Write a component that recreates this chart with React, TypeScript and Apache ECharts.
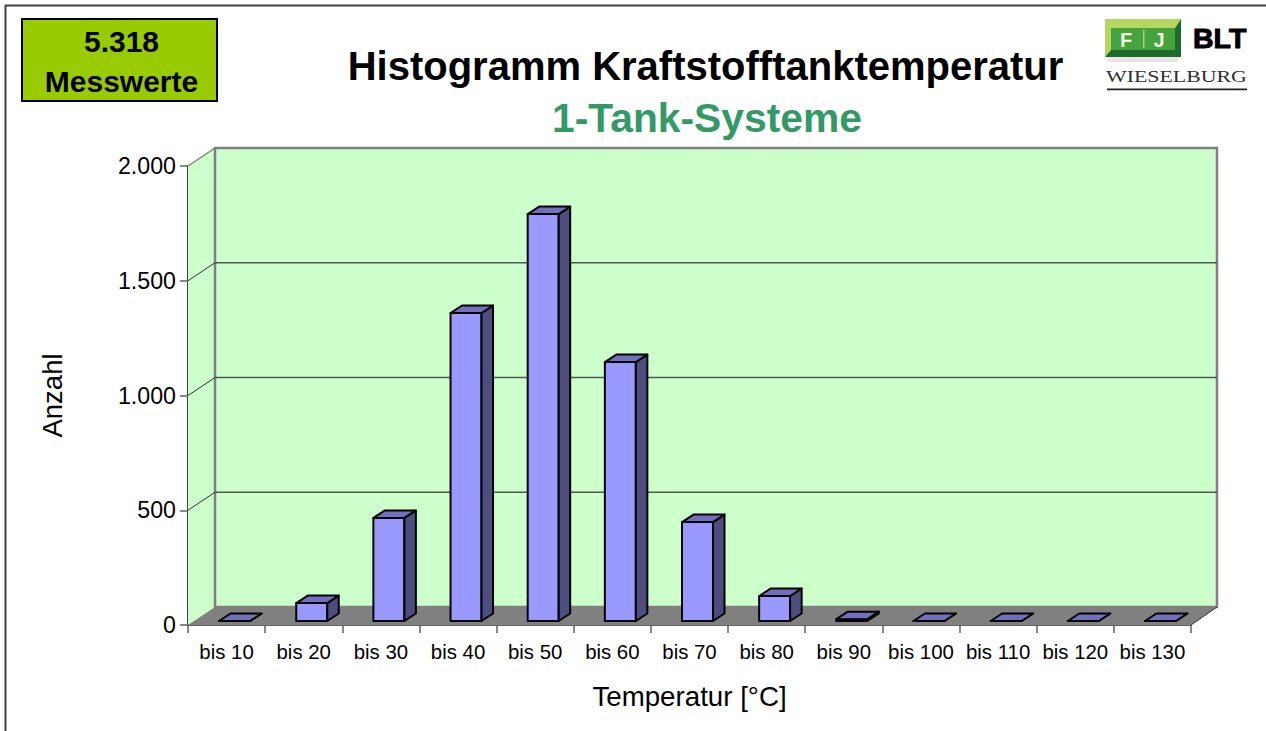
import React, { useEffect, useRef } from "react";
import * as echarts from "echarts";

const categories = ["bis 10", "bis 20", "bis 30", "bis 40", "bis 50", "bis 60", "bis 70", "bis 80", "bis 90", "bis 100", "bis 110", "bis 120", "bis 130"];
const counts = [0, 78, 449, 1342, 1773, 1128, 431, 109, 8, 0, 0, 0, 0];
const yTicks = [0, 500, 1000, 1500, 2000];
const chartTitle = "Histogramm Kraftstofftanktemperatur";
const chartSubtitle = "1-Tank-Systeme";
const badgeLines = ["5.318", "Messwerte"];
const xName = "Temperatur [°C]";
const yName = "Anzahl";

const FONT = '"Liberation Sans", Arial, sans-serif';
const WALL_DX = 27;
const WALL_DY = 18;
const BAR_OFF_X = 8;
const BAR_OFF_Y = 4;
const BAR_W = 31;
const BAR_DX = 11.5;
const BAR_DY = 7.5;

const renderWalls = (params: any, api: any) => {
  const cs = params.coordSys;
  const L = cs.x, R = cs.x + cs.width;
  const y0 = api.coord([0, 0])[1];
  const yMax = api.coord([0, yTicks[yTicks.length - 1]])[1];
  const children: any[] = [
    { type: "polygon", shape: { points: [[L, y0], [L, yMax], [L + WALL_DX, yMax - WALL_DY], [L + WALL_DX, y0 - WALL_DY]] }, style: { fill: "#CCFFCC" } },
    { type: "rect", shape: { x: L + WALL_DX, y: yMax - WALL_DY, width: cs.width - 1, height: y0 - yMax }, style: { fill: "#CCFFCC", stroke: "#808080", lineWidth: 2.5 } },
    { type: "polygon", shape: { points: [[L, y0], [R, y0], [R + WALL_DX - 1, y0 - WALL_DY], [L + WALL_DX, y0 - WALL_DY]] }, style: { fill: "#808080" } },
    { type: "line", shape: { x1: L, y1: yMax, x2: L + WALL_DX, y2: yMax - WALL_DY }, style: { stroke: "#808080", lineWidth: 1.5 } },
    { type: "line", shape: { x1: R, y1: y0, x2: R + WALL_DX - 1, y2: y0 - WALL_DY }, style: { stroke: "#303030", lineWidth: 1 } },
  ];
  yTicks.slice(1, -1).forEach((t) => {
    const y = api.coord([0, t])[1];
    children.push({ type: "line", shape: { x1: L, y1: y, x2: L + WALL_DX, y2: y - WALL_DY }, style: { stroke: "#303030", lineWidth: 1 } });
    children.push({ type: "line", shape: { x1: L + WALL_DX, y1: y - WALL_DY, x2: R + WALL_DX - 1, y2: y - WALL_DY }, style: { stroke: "#505A50", lineWidth: 1.5 } });
  });
  return { type: "group", children };
};

const renderBar = (_params: any, api: any) => {
  const i = api.value(0);
  const top = api.coord([i, api.value(1)]);
  const base = api.coord([i, 0]);
  const x0 = top[0] + BAR_OFF_X - BAR_W / 2;
  const x1 = x0 + BAR_W;
  const yb = base[1] - BAR_OFF_Y;
  const yt = top[1] - BAR_OFF_Y;
  const stroke = { stroke: "#000", lineWidth: 2, lineJoin: "round" };
  return {
    type: "group",
    children: [
      { type: "polygon", shape: { points: [[x0, yt], [x1, yt], [x1, yb], [x0, yb]] }, style: { fill: "#9999FF", ...stroke } },
      { type: "polygon", shape: { points: [[x1, yt], [x1 + BAR_DX, yt - BAR_DY], [x1 + BAR_DX, yb - BAR_DY], [x1, yb]] }, style: { fill: "#4D4D80", ...stroke } },
      { type: "polygon", shape: { points: [[x0, yt], [x0 + BAR_DX, yt - BAR_DY], [x1 + BAR_DX, yt - BAR_DY], [x1, yt]] }, style: { fill: "#7070BF", ...stroke } },
    ],
  };
};

const logo = {
  type: "group",
  silent: true,
  children: [
    { type: "rect", shape: { x: 1108, y: 57, width: 70, height: 5 }, style: { fill: "#E6E6E6" } },
    { type: "polygon", shape: { points: [[1105, 19], [1181, 19], [1175, 28], [1111, 28], [1111, 50], [1105, 57]] }, style: { fill: "#B5D65F" } },
    { type: "polygon", shape: { points: [[1181, 19], [1181, 57], [1105, 57], [1111, 50], [1175, 50], [1175, 28]] }, style: { fill: "#1F6B2D" } },
    { type: "rect", shape: { x: 1111, y: 28, width: 64, height: 22 }, style: { fill: "#46A23C" } },
    { type: "text", style: { x: 1126, y: 39.5, text: "F", fill: "#F2F7E6", font: `bold 20px ${FONT}`, align: "center", verticalAlign: "middle" } },
    { type: "rect", shape: { x: 1143, y: 30, width: 1.5, height: 18 }, style: { fill: "#A5D090" } },
    { type: "text", style: { x: 1159, y: 39.5, text: "J", fill: "#F2F7E6", font: `bold 20px ${FONT}`, align: "center", verticalAlign: "middle" } },
    { type: "text", x: 1193, y: 38, style: { x: 0, y: 0, text: "BLT", fill: "#000", stroke: "#000", lineWidth: 1, font: `bold 28.5px ${FONT}`, align: "left", verticalAlign: "middle" } },
    { type: "text", x: 1106, y: 76, scaleX: 1.25, style: { x: 0, y: 0, text: "WIESELBURG", fill: "#303030", font: `17.5px "Liberation Serif", serif`, align: "left", verticalAlign: "middle" } },
    { type: "rect", shape: { x: 1107, y: 88.5, width: 140, height: 1.8 }, style: { fill: "#202020" } },
  ],
};

export default function App() {
  const ref = useRef<HTMLDivElement>(null);
  useEffect(() => {
    if (!ref.current) return;
    const chart = echarts.init(ref.current, null, { renderer: "svg" });
    chart.setOption({
      animation: false,
      backgroundColor: "#FFFFFF",
      title: [
        { text: chartTitle, left: 705.5, top: 46, padding: 0, textAlign: "center", textStyle: { fontFamily: FONT, fontSize: 40, fontWeight: "bold", color: "#000" } },
        { text: chartSubtitle, left: 707, top: 97, padding: 0, textAlign: "center", textStyle: { fontFamily: FONT, fontSize: 40.8, fontWeight: "bold", color: "#339966" } },
      ],
      grid: { left: 188, right: 75, top: 166, bottom: 106, containLabel: false },
      xAxis: {
        type: "category",
        data: categories,
        name: xName,
        nameLocation: "middle",
        nameGap: 57,
        nameTextStyle: { fontFamily: FONT, fontSize: 27.7, color: "#000" },
        axisLine: { show: true, lineStyle: { color: "#303030", width: 1.5 } },
        axisTick: { show: true, length: 8, alignWithLabel: false, lineStyle: { color: "#606060", width: 1.5 } },
        axisLabel: { interval: 0, margin: 17, fontFamily: FONT, fontSize: 20.4, color: "#000" },
        splitLine: { show: false },
      },
      yAxis: {
        type: "value",
        min: 0,
        max: 2000,
        interval: 500,
        name: yName,
        nameLocation: "middle",
        nameGap: 122,
        nameTextStyle: { fontFamily: FONT, fontSize: 27.5, color: "#000" },
        axisLine: { show: true, lineStyle: { color: "#404040", width: 2 } },
        axisTick: { show: true, length: 8, lineStyle: { color: "#606060", width: 1.5 } },
        axisLabel: { margin: 12, fontFamily: FONT, fontSize: 23.2, color: "#000", formatter: (v: number) => v.toLocaleString("de-DE") },
        splitLine: { show: false },
      },
      graphic: [
        { type: "rect", silent: true, shape: { x: 5.5, y: 5.5, width: 1300, height: 800 }, style: { fill: "none", stroke: "#404040", lineWidth: 2 } },
        { type: "rect", silent: true, shape: { x: 22, y: 19, width: 195, height: 82 }, style: { fill: "#99CC00", stroke: "#000", lineWidth: 2 } },
        { type: "text", silent: true, style: { x: 121.5, y: 41, text: badgeLines[0], fill: "#000", font: `bold 30px ${FONT}`, align: "center", verticalAlign: "middle" } },
        { type: "text", silent: true, style: { x: 121.5, y: 81, text: badgeLines[1], fill: "#000", font: `bold 30px ${FONT}`, align: "center", verticalAlign: "middle" } },
        logo,
      ],
      series: [
        { type: "custom", name: "walls", z: 1, clip: false, silent: true, coordinateSystem: "cartesian2d", encode: { x: 0, y: 1 }, data: [[0, 0]], renderItem: renderWalls },
        { type: "custom", name: "Anzahl", z: 3, clip: false, silent: true, coordinateSystem: "cartesian2d", encode: { x: 0, y: 1 }, data: counts.map((v, i) => [i, v]), renderItem: renderBar },
      ],
    });
    return () => chart.dispose();
  }, []);
  return <div ref={ref} style={{ position: "fixed", left: 0, top: 0, width: 1266, height: 731 }} />;
}
